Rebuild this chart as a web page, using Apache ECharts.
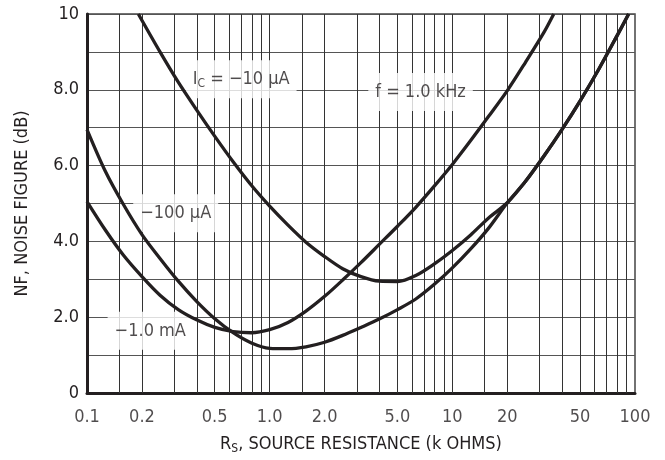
<!DOCTYPE html>
<html><head><meta charset="utf-8">
<script src="https://cdn.jsdelivr.net/npm/echarts@6/dist/echarts.min.js"></script>
<style>html,body{margin:0;padding:0;background:#fff}#c{width:665px;height:460px}</style>
</head><body><div id="c"></div>
<script>
// ---- data ----
const ic10R  = [0.191, 0.251, 0.316, 0.398, 0.501, 0.631, 0.794, 1.0, 1.26, 1.58, 2.0, 2.51, 3.16, 3.98, 5.01, 6.31, 7.94, 10, 12.6, 15.8, 20, 25.1, 31.6, 39.8, 50.1, 63.1, 79.4, 92.3];
const ic10NF = [10.0, 9.0, 8.2, 7.47, 6.77, 6.1, 5.48, 4.93, 4.43, 3.98, 3.6, 3.28, 3.07, 2.95, 2.94, 3.1, 3.4, 3.76, 4.17, 4.62, 5.02, 5.58, 6.24, 6.95, 7.71, 8.53, 9.41, 10.0];

const ic100R  = [0.1, 0.126, 0.158, 0.2, 0.251, 0.316, 0.398, 0.501, 0.631, 0.794, 1.0, 1.26, 1.58, 2.0, 2.51, 3.16, 3.98, 5.01, 6.31, 7.94, 10, 12.6, 15.8, 20, 25.1, 31.6, 39.8, 50.1, 63.1, 79.4, 92.3];
const ic100NF = [6.95, 5.85, 4.98, 4.18, 3.55, 2.95, 2.42, 1.96, 1.59, 1.32, 1.18, 1.17, 1.22, 1.34, 1.52, 1.73, 1.95, 2.2, 2.48, 2.86, 3.3, 3.8, 4.35, 5.02, 5.58, 6.24, 6.95, 7.71, 8.53, 9.41, 10.0];

const ic1mR  = [0.1, 0.126, 0.158, 0.2, 0.251, 0.316, 0.398, 0.501, 0.631, 0.794, 1.0, 1.26, 1.58, 2.0, 2.51, 3.16, 3.98, 5.01, 6.31, 7.94, 10, 12.6, 15.8, 20, 25.1, 31.6, 35.9];
const ic1mNF = [5.05, 4.30, 3.64, 3.07, 2.58, 2.2, 1.93, 1.73, 1.62, 1.59, 1.67, 1.86, 2.16, 2.55, 2.98, 3.44, 3.92, 4.4, 4.9, 5.45, 6.03, 6.66, 7.3, 7.98, 8.72, 9.5, 10.0];

const xGridValues = [0.15,0.2,0.3,0.4,0.5,0.6,0.7,0.8,0.9,1,1.5,2,3,4,5,6,7,8,9,10,15,20,30,40,50,60,70,80,90];
const xTickValues = [0.1, 0.2, 0.5, 1, 2, 5, 10, 20, 50, 100];
const xTickLabels = ['0.1','0.2','0.5','1.0','2.0','5.0','10','20','50','100'];
const yTickValues = [0, 2, 4, 6, 8, 10];
const yTickLabels = ['0', '2.0', '4.0', '6.0', '8.0', '10'];

const noteR    = [0.698, 6.7, 0.306, 0.222];
const noteNF   = [8.28, 7.94, 4.74, 1.64];
const noteText = ['{n|I}{s|C}{n| = \u221210 \u00b5A}', '{n|f = 1.0 kHz}', '{n|\u2212100 \u00b5A}', '{n|\u22121.0 mA}'];

// ---- chart ----
const FONT = "'Liberation Sans Narrow','DejaVu Sans Condensed','Liberation Sans',sans-serif";
const INK = '#231f20';
const zip = (a, b) => a.map((v, i) => [v, b[i]]);
const rich = {
  n: {fontFamily: FONT, fontSize: 18, color: INK, lineHeight: 22},
  s: {fontFamily: FONT, fontSize: 12, color: INK, lineHeight: 12, verticalAlign: 'bottom'}
};
const curve = (name, data) => ({
  name, type: 'line', data, smooth: 0.3, symbol: 'none', z: 5, clip: true,
  lineStyle: {color: INK, width: 3.3}, silent: true
});

const chart = echarts.init(document.getElementById('c'), null, {renderer: 'canvas'});
chart.setOption({
  animation: false,
  backgroundColor: '#fff',
  grid: {left: 87, right: 30, top: 14, bottom: 62, show: true, borderColor: '#444', borderWidth: 1.5, backgroundColor: 'transparent'},
  xAxis: {
    type: 'log', logBase: 10, min: 0.1, max: 100,
    axisLine: {show: true, lineStyle: {color: INK, width: 3}},
    axisTick: {show: false}, axisLabel: {show: false}, splitLine: {show: false},
    name: '{n|R}{s|S}{n|, SOURCE RESISTANCE (k OHMS)}', nameLocation: 'middle', nameGap: 40,
    nameTextStyle: {rich}
  },
  yAxis: {
    type: 'value', min: 0, max: 10, interval: 1,
    axisLine: {show: true, lineStyle: {color: INK, width: 3}},
    axisTick: {show: false},
    axisLabel: {
      fontFamily: FONT, fontSize: 18, color: INK, margin: 8,
      formatter: v => { const i = yTickValues.indexOf(v); return i >= 0 ? yTickLabels[i] : ''; }
    },
    splitLine: {show: true, lineStyle: {color: '#555', width: 1}},
    name: 'NF, NOISE FIGURE (dB)', nameLocation: 'middle', nameGap: 56,
    nameTextStyle: {fontFamily: FONT, fontSize: 18, color: INK}
  },
  series: [
    {
      type: 'scatter', z: 1, silent: true, symbolSize: 0, clip: false,
      data: xTickValues.map((v, i) => ({value: [v, 0], name: xTickLabels[i]})),
      label: {show: true, position: 'bottom', distance: 15, formatter: p => p.name,
              fontFamily: FONT, fontSize: 18, color: INK},
      markLine: {
        silent: true, z: 1, symbol: ['none', 'none'], label: {show: false},
        lineStyle: {color: '#333', width: 1, type: 'solid'},
        data: xGridValues.map(v => ({xAxis: v}))
      }
    },
    {
      type: 'scatter', z: 3, silent: true, symbolSize: 0,
      data: noteR.map((r, i) => ({value: [r, noteNF[i]], name: noteText[i]})),
      label: {show: true, position: 'inside', formatter: p => p.name, rich,
              backgroundColor: '#fff', padding: [8, 7]}
    },
    curve('-10uA', zip(ic10R, ic10NF)),
    curve('-100uA', zip(ic100R, ic100NF)),
    curve('-1.0mA', zip(ic1mR, ic1mNF))
  ]
});
</script>
</body></html>
